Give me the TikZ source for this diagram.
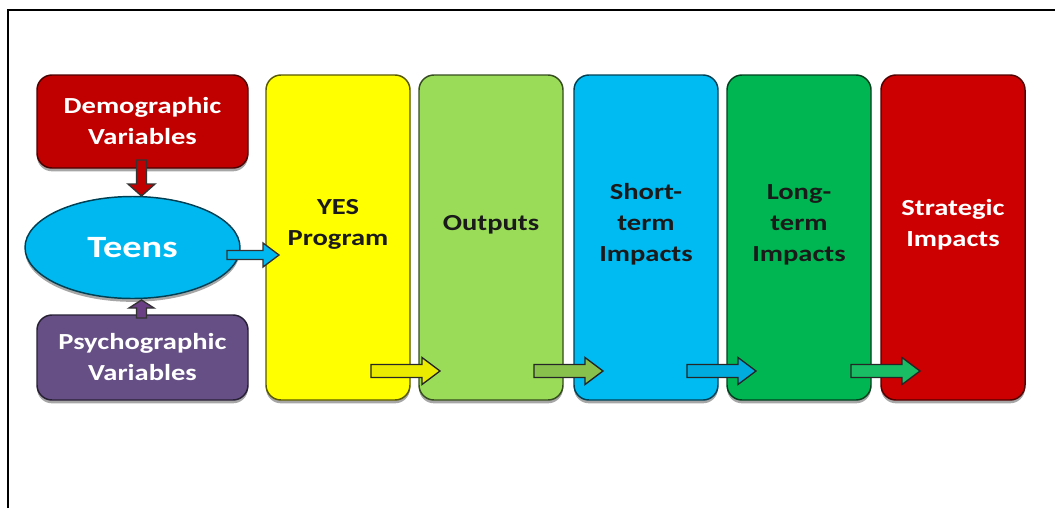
\documentclass[tikz,border=0pt]{standalone}
\usepackage{fontspec}
\setmainfont{Carlito}[FakeStretch=1.24]
\usetikzlibrary{shadows,calc,shapes.geometric}

\definecolor{demored}{HTML}{C00000}
\definecolor{psypurple}{HTML}{654F85}
\definecolor{teenblue}{HTML}{00B8F0}
\definecolor{colyellow}{HTML}{FFFF00}
\definecolor{collgreen}{HTML}{9ADC58}
\definecolor{colblue}{HTML}{00BBF2}
\definecolor{colgreen}{HTML}{00B652}
\definecolor{colred}{HTML}{CC0000}
\definecolor{txtdark}{HTML}{1A1A1A}

\tikzset{
  softshadow/.style={drop shadow={shadow xshift=0pt, shadow yshift=-2.5pt, opacity=0.35, fill=black}},
  box/.style={rounded corners=11.25pt, line width=1.1pt, inner sep=0pt, softshadow},
  sidebox/.style={box, minimum width=158.25pt, text=white, lbl},
  colbox/.style={box, minimum width=108pt, minimum height=243.75pt},
  lbl/.style={font=\fontsize{17.25}{23.25}\selectfont\bfseries, align=center},
}

% block arrow: fill, outline, tail coordinate, angle, length, shaft half-width, head half-width, head length
\newcommand\blockarr[8]{%
  \filldraw[fill=#1, draw=#2, line width=1pt, line join=miter, shift={(#3)}, rotate=#4]
    (0,-#6) -- ({#5-#8},-#6) -- ({#5-#8},-#7) -- (#5,0) -- ({#5-#8},#7)
    -- ({#5-#8},#6) -- (0,#6) -- cycle;}

\begin{document}
\begin{tikzpicture}[x=0.75pt,y=-0.75pt]
\useasboundingbox (0,0) rectangle (1055,508);

% frame
\draw[line width=1.9pt] (8,508) -- (8,10) -- (1055,10);

% input side
\node[sidebox, fill=demored, draw=demored!40!black, minimum height=69.75pt]
  (demo) at (142.5,121.5) {Demographic\\Variables};
\node[sidebox, fill=psypurple, draw=psypurple!40!black, minimum height=63.75pt]
  (psy) at (142.5,357.5) {Psychographic\\Variables};
\node[ellipse, fill=teenblue, draw=teenblue!35!black, line width=1.1pt, inner sep=0pt,
  minimum width=161.25pt, minimum height=76.5pt, softshadow, text=white,
  font=\fontsize{23.25}{28}\selectfont\bfseries] (teens) at (132.5,247.5) {Teens};

% columns
\node[colbox, fill=colyellow, draw=colyellow!35!black] (yes) at (338,237.5) {};
\node[colbox, fill=collgreen, draw=collgreen!35!black] (out) at (491,237.5) {};
\node[colbox, fill=colblue, draw=colblue!35!black] (short) at (646,237.5) {};
\node[colbox, fill=colgreen, draw=colgreen!35!black] (long) at (799,237.5) {};
\node[colbox, fill=colred, draw=colred!40!black] (strat) at (953,237.5) {};

\node[lbl, text=txtdark] (yesT) at ($(yes.center)+(0,-13)$) {YES\\Program};
\node[lbl, text=txtdark] (outT) at ($(out.center)+(0,-13)$) {Outputs};
\node[lbl, text=txtdark] (shortT) at ($(short.center)+(0,-13)$) {Short-\\term\\Impacts};
\node[lbl, text=txtdark] (longT) at ($(long.center)+(0,-13)$) {Long-\\term\\Impacts};
\node[lbl, text=white] (stratT) at ($(strat.center)+(0,-13)$) {Strategic\\Impacts};

% arrow tails
\coordinate (dtail) at (141.5,160);
\coordinate (ptail) at (141.5,318);
\coordinate (ttail) at (227,255);
\coordinate (a1) at (371,371);
\coordinate (a2) at (534,371);
\coordinate (a3) at (687,371);
\coordinate (a4) at (851,371);

\blockarr{demored}{black!80}{dtail}{-90}{36}{5}{13.5}{12}
\blockarr{psypurple!80!violet}{black!80}{ptail}{90}{18}{5}{12.5}{8}
\blockarr{teenblue}{black!80}{ttail}{0}{52}{4.5}{12}{16}
\blockarr{colyellow!92!black}{black!85}{a1}{0}{69}{6.5}{13.5}{18}
\blockarr{collgreen!88!black}{black!85}{a2}{0}{69}{6.5}{13.5}{18}
\blockarr{colblue!92!black}{black!85}{a3}{0}{69}{6.5}{13.5}{18}
\blockarr{colgreen!90!white}{black!85}{a4}{0}{69}{6.5}{13.5}{18}
\end{tikzpicture}
\end{document}
